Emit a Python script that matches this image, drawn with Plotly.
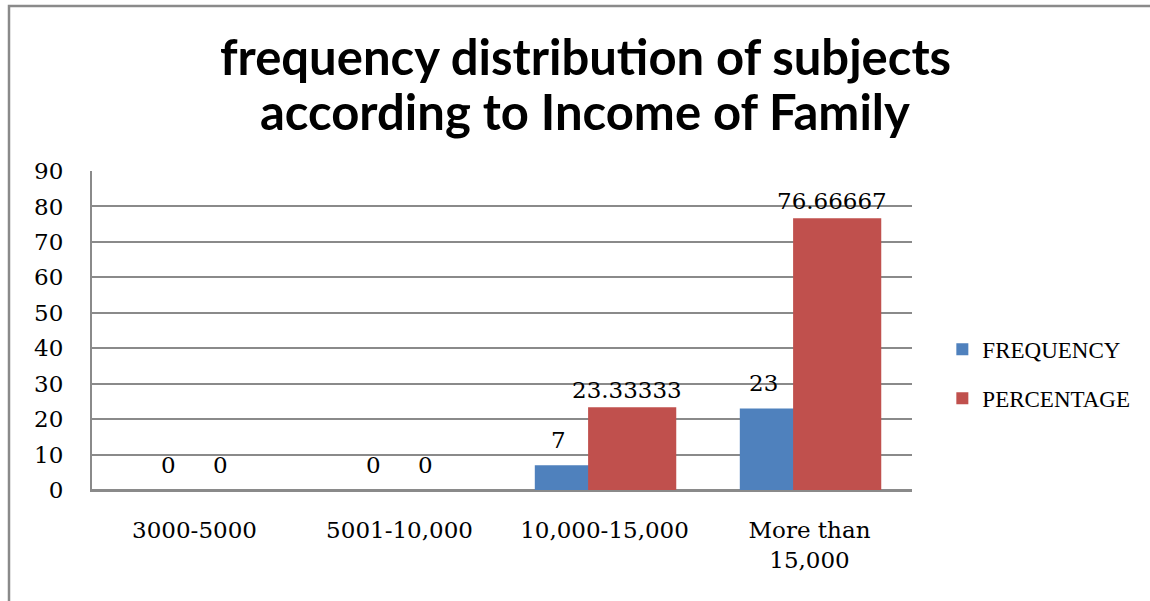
import plotly.graph_objects as go

# Income brackets and the two measured series
categories = ["3000-5000", "5001-10,000", "10,000-15,000", "More than<br>15,000"]
frequency = [0, 0, 7, 23]
percentage = [0, 0, 23.33333, 76.66667]
series_names = ["FREQUENCY", "PERCENTAGE"]
y_ticks = list(range(0, 100, 10))
title_lines = ["frequency distribution of subjects", "according to Income of Family"]

BLUE = "#4F81BD"
RED = "#C0504D"
GRID = "#8a8a8a"
SERIF = "DejaVu Serif"

BAR_W = 0.43          # bar width in category units
BLUE_OFF = -0.34      # left edge of the frequency bar relative to category centre
RED_OFF = -0.08       # left edge of the percentage bar (overlaps the blue one)

fig = go.Figure()
fig.add_trace(go.Bar(
    x=categories, y=frequency, name=series_names[0],
    marker=dict(color=BLUE, line=dict(width=0)),
    width=BAR_W, offset=BLUE_OFF, legendgroup="f",
))
fig.add_trace(go.Bar(
    x=categories, y=percentage, name=series_names[1],
    marker=dict(color=RED, line=dict(width=0)),
    width=BAR_W, offset=RED_OFF, legendgroup="p",
))

# Value labels above each bar
annotations = []
for i, v in enumerate(frequency):
    annotations.append(dict(
        x=i, y=v, xref="x", yref="y", text=str(v), showarrow=False,
        xanchor="center", yanchor="bottom",
        xshift=-26 if v == 0 else -46, yshift=10,
        font=dict(family=SERIF, size=23, color="#000"),
    ))
for i, v in enumerate(percentage):
    annotations.append(dict(
        x=i, y=v, xref="x", yref="y", text=str(v), showarrow=False,
        xanchor="center", yanchor="bottom",
        xshift=26 if v == 0 else 22, yshift=10 if v == 0 else 2,
        font=dict(family=SERIF, size=23, color="#000"),
    ))

# Chart title, one annotation per line for tighter line spacing
for line, centre_px in zip(title_lines, [56, 111]):
    annotations.append(dict(
        x=(585 - 92) / 820, y=(490 - centre_px) / 319,
        xref="paper", yref="paper",
        text=f"<b>{line}</b>",
        showarrow=False, xanchor="center", yanchor="middle",
        font=dict(family="Lato", size=49, color="#000"),
    ))

# Caption of the page above the chart frame (mostly cut off)
annotations.append(dict(
    x=-0.10, y=1.531, xref="paper", yref="paper",
    text="<b>Figure 2: Frequency distribution of the subjects according to Income of Family</b>",
    showarrow=False, xanchor="left", yanchor="bottom",
    font=dict(family="Liberation Serif", size=28, color="#000"),
))

fig.update_layout(
    width=1150, height=601,
    margin=dict(l=92, r=238, t=171, b=111),
    paper_bgcolor="white", plot_bgcolor="white",
    barmode="overlay",
    xaxis=dict(
        showline=True, linecolor=GRID, linewidth=2,
        showgrid=False, ticks="", ticklabelstandoff=18,
        tickfont=dict(family=SERIF, size=23, color="#000"),
    ),
    yaxis=dict(
        range=[0, 90], tickvals=y_ticks,
        showline=True, linecolor=GRID, linewidth=2,
        showgrid=True, gridcolor=GRID, gridwidth=1.6,
        zeroline=True, zerolinecolor=GRID, zerolinewidth=2,
        ticks="", ticklabelstandoff=22,
        tickfont=dict(family=SERIF, size=23, color="#000"),
    ),
    legend=dict(
        x=1.037, y=0.364, xanchor="left", yanchor="middle",
        font=dict(family="Liberation Serif", size=23, color="#000"),
        tracegroupgap=16, bgcolor="rgba(0,0,0,0)",
    ),
    showlegend=True,
    annotations=annotations,
    shapes=[dict(
        type="rect", xref="paper", yref="paper",
        x0=(9 - 92) / 820, x1=1.5, y0=-0.5, y1=(490 - 6) / 319,
        line=dict(color=GRID, width=2.5), fillcolor="rgba(0,0,0,0)", layer="below",
    )],
)

fig.write_html("out.html")
